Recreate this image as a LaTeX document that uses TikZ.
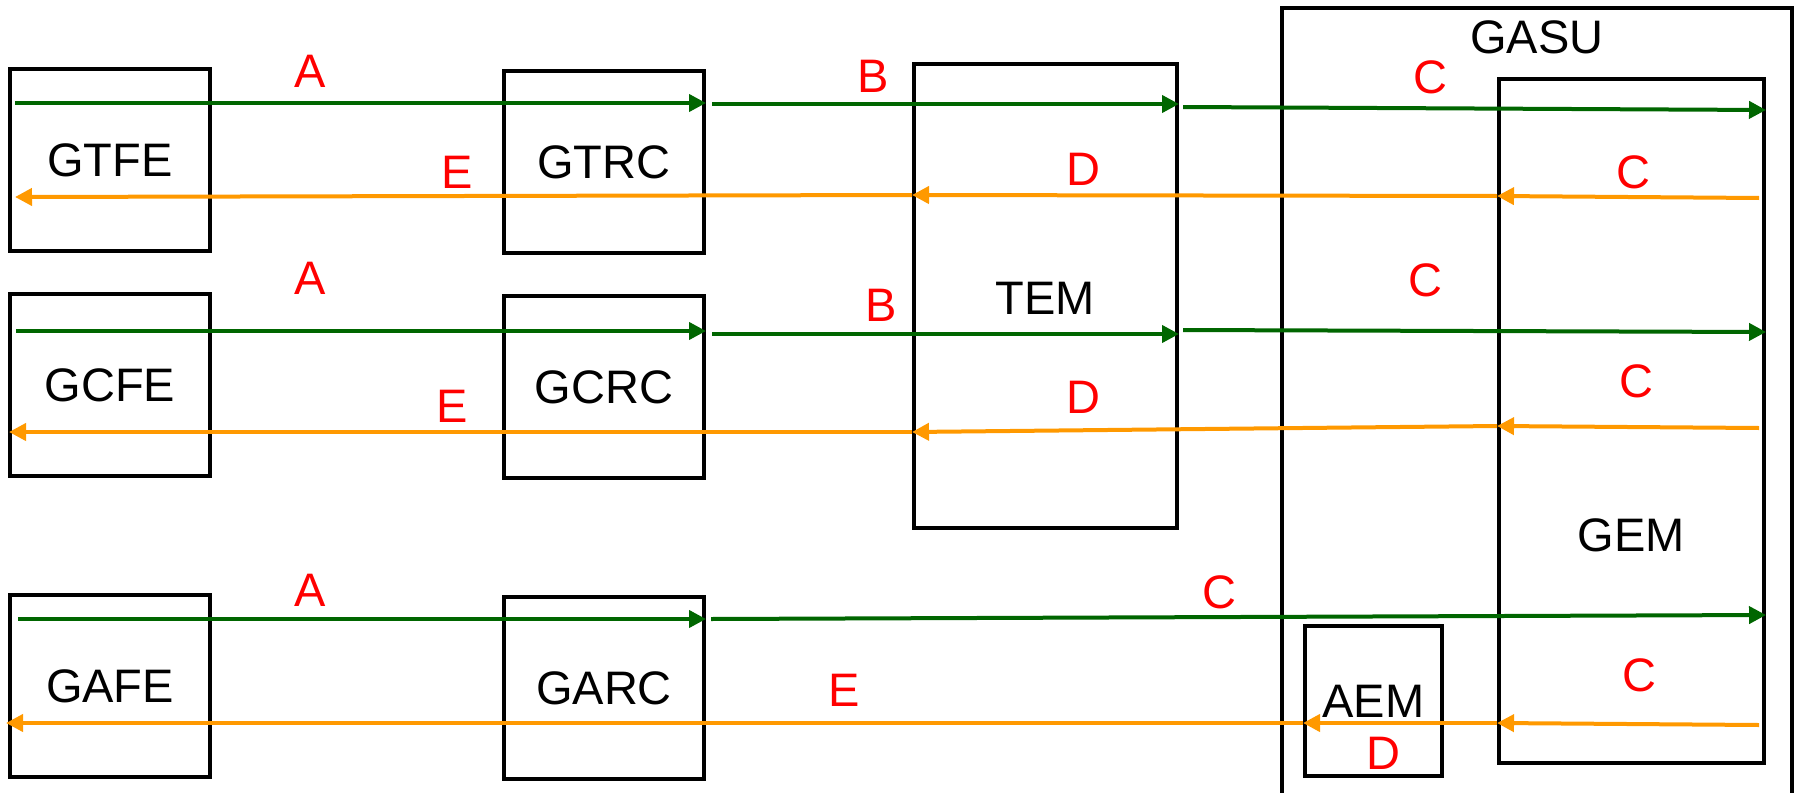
\documentclass[tikz,border=0pt]{standalone}
\usepackage{fontspec}
\setmainfont{Liberation Sans}
\usetikzlibrary{arrows.meta}
\definecolor{flowgreen}{RGB}{0,102,0}
\definecolor{floworange}{RGB}{255,153,0}
\definecolor{lblred}{RGB}{255,0,0}

\begin{document}
\begin{tikzpicture}[x=1pt,y=-1pt,
  txt/.style={font=\fontsize{47}{50}\selectfont,inner sep=0pt},
  box/.style={txt,draw=black,line width=4pt,minimum width=200pt,minimum height=182pt},
  lbl/.style={txt,text=lblred},
  garrow/.style={draw=flowgreen,line width=4pt,-{Triangle[length=17pt,width=17pt]}},
  oarrow/.style={draw=floworange,line width=4pt,-{Triangle[length=17pt,width=17pt]}}]
\useasboundingbox (0,0) rectangle (1795,792);

% front-end and readout boxes
\node[box] (gtfe) at (110,160) {GTFE};
\node[box] (gtrc) at (604,162) {GTRC};
\node[box] (gcfe) at (110,385) {GCFE};
\node[box] (gcrc) at (604,387) {GCRC};
\node[box] (gafe) at (110,686) {GAFE};
\node[box] (garc) at (604,688) {GARC};

% TEM
\node[box,minimum width=263pt,minimum height=464pt] (tem) at (1045.5,296) {};
\node[txt] (temlbl) at (1045,298) {TEM};

% GASU enclosure with GEM and AEM
\node[draw=black,line width=3.5pt,minimum width=510pt,minimum height=812pt,inner sep=0pt] (gasu) at (1537,414) {};
\node[txt] (gasulbl) at (1537,37) {GASU};
\node[box,minimum width=265pt,minimum height=684pt] (gem) at (1631.5,421) {};
\node[txt] (gemlbl) at (1631,535) {GEM};
\node[box,minimum width=137pt,minimum height=150pt] (aem) at (1373.5,701) {AEM};

% free ends of the connectors
\coordinate (a1) at (15,103);
\coordinate (b1) at (712,104);
\coordinate (c1) at (1183,107);
\coordinate (c1e) at (0,110);
\coordinate (oc1) at (1759,198);
\coordinate (od1) at (0,196);
\coordinate (oe1) at (0,195);
\coordinate (e1) at (15,197);

\coordinate (a2) at (16,331);
\coordinate (b2) at (712,334);
\coordinate (c2) at (1183,330);
\coordinate (c2e) at (0,332);
\coordinate (oc2) at (1759,428);
\coordinate (od2) at (0,426);
\coordinate (oe2) at (0,432);
\coordinate (e2) at (9,432);

\coordinate (a3) at (18,619);
\coordinate (c3) at (711,619);
\coordinate (c3e) at (0,615);
\coordinate (oc3) at (1759,725);
\coordinate (od3) at (0,723);
\coordinate (e3) at (6,723);

% upper row
\draw[garrow] (a1) -- (gtrc.east |- a1);
\draw[garrow] (b1) -- (tem.east |- b1);
\draw[garrow] (c1) -- (gem.east |- c1e);
\draw[oarrow] (oc1) -- (gem.west |- od1);
\draw[oarrow] (gem.west |- od1) -- (tem.west |- oe1);
\draw[oarrow] (tem.west |- oe1) -- (e1);

% middle row
\draw[garrow] (a2) -- (gcrc.east |- a2);
\draw[garrow] (b2) -- (tem.east |- b2);
\draw[garrow] (c2) -- (gem.east |- c2e);
\draw[oarrow] (oc2) -- (gem.west |- od2);
\draw[oarrow] (gem.west |- od2) -- (tem.west |- oe2);
\draw[oarrow] (tem.west |- oe2) -- (e2);

% lower row
\draw[garrow] (a3) -- (garc.east |- a3);
\draw[garrow] (c3) -- (gem.east |- c3e);
\draw[oarrow] (oc3) -- (gem.west |- od3);
\draw[oarrow] (gem.west |- od3) -- (aem.west |- od3);
\draw[oarrow] (aem.west |- od3) -- (e3);

% link labels
\node[lbl] (la1) at (310,71) {A};
\node[lbl] (lb1) at (873,76) {B};
\node[lbl] (lc1) at (1430,77) {C};
\node[lbl] (le1) at (457,172) {E};
\node[lbl] (ld1) at (1083,169) {D};
\node[lbl] (lo1) at (1633,172) {C};

\node[lbl] (la2) at (310,278) {A};
\node[lbl] (lb2) at (881,305) {B};
\node[lbl] (lc2) at (1425,280) {C};
\node[lbl] (le2) at (452,406) {E};
\node[lbl] (ld2) at (1083,397) {D};
\node[lbl] (lo2) at (1636,381) {C};

\node[lbl] (la3) at (310,590) {A};
\node[lbl] (lc3) at (1219,592) {C};
\node[lbl] (le3) at (844,690) {E};
\node[lbl] (lo3) at (1639,675) {C};
\node[lbl] (ld3) at (1383,753) {D};
\end{tikzpicture}
\end{document}
